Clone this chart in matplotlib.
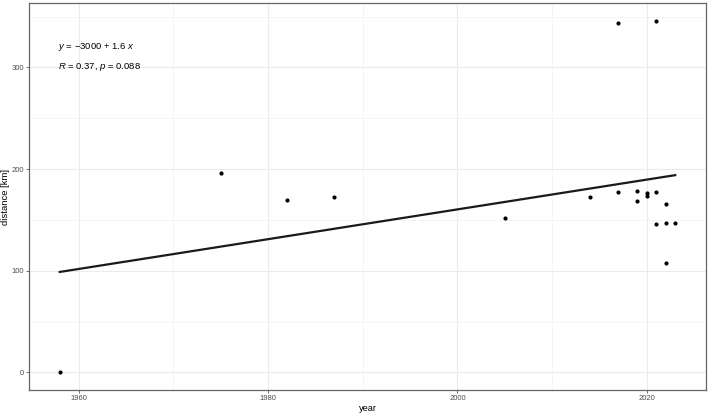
import numpy as np
from matplotlib import pyplot as plt
from matplotlib.ticker import MultipleLocator

plt.rcParams['font.family'] = ['Liberation Sans', 'DejaVu Sans']
plt.rcParams['mathtext.fontset'] = 'custom'
plt.rcParams['mathtext.rm'] = 'Liberation Sans'
plt.rcParams['mathtext.it'] = 'Liberation Sans:italic'

# year of observation and distance [km]
year = [1958, 1975, 1982, 1987, 2005, 2014, 2017, 2017, 2019, 2019,
        2020, 2020, 2021, 2021, 2021, 2022, 2022, 2022, 2023]
distance = [0, 196, 169.5, 172.5, 151.5, 173, 177, 344, 178, 169,
            176, 173.5, 177.5, 145.5, 346, 166, 147, 108, 147]

x = np.array(year, dtype=float)
y = np.array(distance, dtype=float)

# linear fit (geom_smooth lm)
slope, intercept = np.polyfit(x, y, 1)
xs = np.array([x.min(), x.max()])

fig = plt.figure(figsize=(7.09, 4.15), dpi=100)
ax = fig.add_axes([29/709, 1-390/415, (706-29)/709, (390-3)/415])

ax.xaxis.set_major_locator(MultipleLocator(20))
ax.xaxis.set_minor_locator(MultipleLocator(10))
ax.yaxis.set_major_locator(MultipleLocator(100))
ax.yaxis.set_minor_locator(MultipleLocator(50))
ax.grid(which='major', color='#ebebeb', lw=0.8)
ax.grid(which='minor', color='#f2f2f2', lw=0.5)
ax.set_axisbelow(True)

ax.plot(xs, intercept + slope * xs, color='#1a1a1a', lw=1.6, zorder=3)
ax.scatter(x, y, s=9, color='black', zorder=4, linewidths=0)

ax.text(1957.8, 320, r'$y$ = $-$3000 + 1.6 $x$', fontsize=6.8, va='center', ha='left')
ax.text(1957.8, 300, r'$R$ = 0.37, $p$ = 0.088', fontsize=6.8, va='center', ha='left')

ax.set_xlim(1954.75, 2026.25)
ax.set_ylim(-17.3, 363.3)

for s in ax.spines.values():
    s.set_color('#666666')
    s.set_linewidth(0.9)
ax.tick_params(which='major', length=2.3, width=0.6, color='#555555',
               labelsize=5.5, labelcolor='#4d4d4d', pad=1.5)
ax.tick_params(which='minor', length=0)

ax.set_xlabel('year', fontsize=6.7)
ax.set_ylabel('distance [km]', fontsize=6.8)
ax.xaxis.set_label_coords(0.5, (390 - 408) / 387, transform=ax.transAxes)
ax.yaxis.set_label_coords((6 - 29) / 677, 0.5, transform=ax.transAxes)
ax.xaxis.label.set_va('center')
ax.yaxis.label.set_va('center')

fig.savefig('out.png', dpi=100)
